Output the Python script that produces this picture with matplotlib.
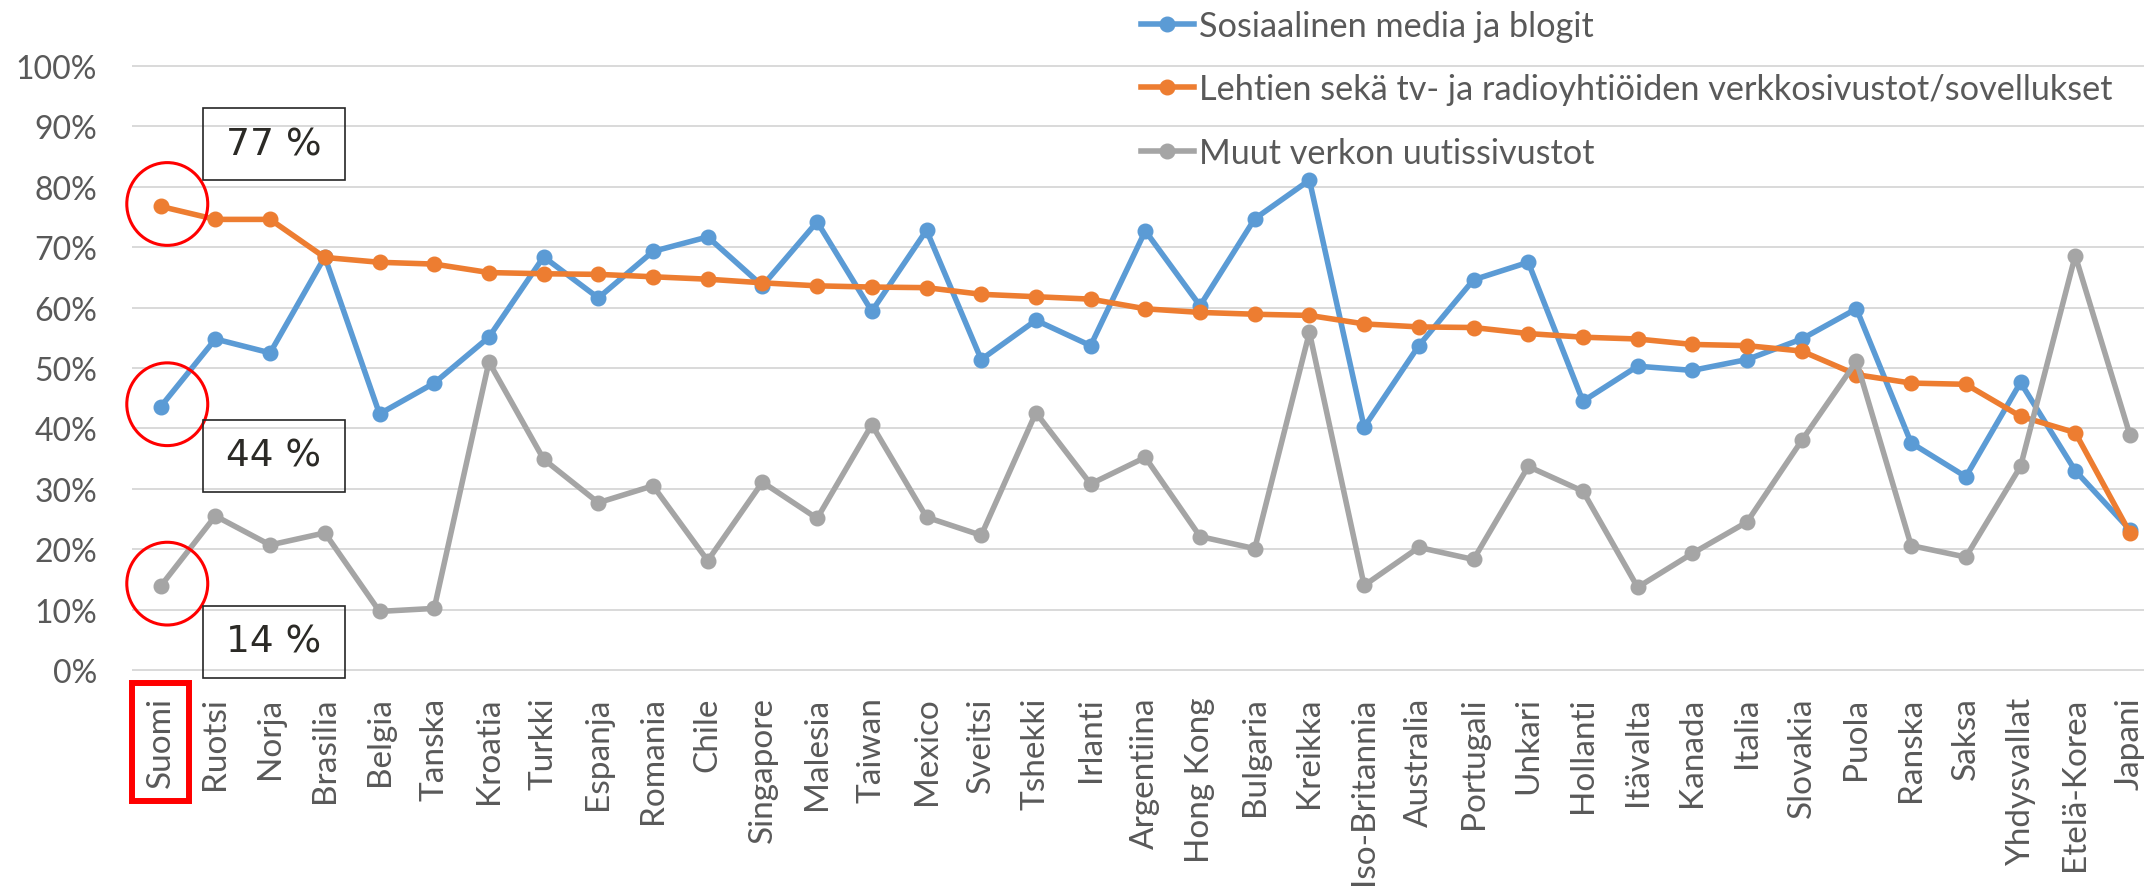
import matplotlib
matplotlib.use("Agg")
import matplotlib.pyplot as plt
from matplotlib.patches import Ellipse, Rectangle
from matplotlib.ticker import PercentFormatter
import numpy as np

countries = ["Suomi", "Ruotsi", "Norja", "Brasilia", "Belgia", "Tanska", "Kroatia",
             "Turkki", "Espanja", "Romania", "Chile", "Singapore", "Malesia", "Taiwan",
             "Mexico", "Sveitsi", "Tshekki", "Irlanti", "Argentiina", "Hong Kong",
             "Bulgaria", "Kreikka", "Iso-Britannia", "Australia", "Portugali", "Unkari",
             "Hollanti", "Itävalta", "Kanada", "Italia", "Slovakia", "Puola", "Ranska",
             "Saksa", "Yhdysvallat", "Etelä-Korea", "Japani"]

social_media = [0.436, 0.548, 0.525, 0.684, 0.424, 0.475, 0.551, 0.684, 0.616, 0.693,
                0.717, 0.636, 0.742, 0.594, 0.728, 0.514, 0.579, 0.537, 0.727, 0.603,
                0.747, 0.811, 0.402, 0.537, 0.646, 0.675, 0.445, 0.503, 0.496, 0.514,
                0.548, 0.598, 0.376, 0.320, 0.476, 0.330, 0.232]

news_sites = [0.7675, 0.746, 0.746, 0.683, 0.675, 0.672, 0.658, 0.656, 0.655, 0.651,
              0.647, 0.641, 0.636, 0.634, 0.633, 0.622, 0.618, 0.614, 0.598, 0.592,
              0.589, 0.587, 0.573, 0.568, 0.567, 0.557, 0.551, 0.548, 0.539, 0.537,
              0.528, 0.489, 0.475, 0.473, 0.420, 0.393, 0.227]

other_sites = [0.139, 0.255, 0.207, 0.227, 0.097, 0.102, 0.510, 0.349, 0.277, 0.305,
               0.181, 0.311, 0.251, 0.406, 0.253, 0.223, 0.426, 0.308, 0.352, 0.221,
               0.201, 0.559, 0.140, 0.203, 0.183, 0.337, 0.296, 0.137, 0.193, 0.245,
               0.380, 0.511, 0.206, 0.187, 0.337, 0.686, 0.389]

series_names = ["Sosiaalinen media ja blogit",
                "Lehtien sekä tv- ja radioyhtiöiden verkkosivustot/sovellukset",
                "Muut verkon uutissivustot"]
colors = ["#5B9BD5", "#ED7D31", "#A5A5A5"]
text_color = "#595959"

plt.rcParams["font.family"] = ["Lato", "DejaVu Sans"]

fig = plt.figure(figsize=(21.44, 8.87), dpi=100)
ax = fig.add_axes([0.0622, 0.2435, 0.944, 0.681])

x = np.arange(len(countries))
for vals, name, c in zip([social_media, news_sites, other_sites], series_names, colors):
    ax.plot(x, vals, color=c, lw=4, marker="o", ms=10.5, label=name,
            solid_joinstyle="round", zorder=3)

ax.set_xlim(-0.5, len(countries) - 0.5)
ax.set_ylim(0, 1)
ax.set_yticks(np.arange(0, 1.01, 0.1))
ax.yaxis.set_major_formatter(PercentFormatter(1.0, decimals=0))
ax.grid(axis="y", color="#D9D9D9", lw=1.4)
ax.set_axisbelow(True)
for gl in ax.get_ygridlines():
    gl.set_clip_on(False)
for s in ax.spines.values():
    s.set_visible(False)
ax.tick_params(axis="y", length=0, pad=26, labelsize=23, labelcolor=text_color)
ax.set_xticks(x)
ax.set_xticklabels(countries, rotation=90, fontsize=24, color=text_color)
ax.tick_params(axis="x", length=0, pad=19)

# red frame round the first country
first = ax.get_xticklabels()[0]
first.set_bbox(dict(boxstyle="square,pad=0.4", facecolor="none", edgecolor="#FF0000", linewidth=4.3))

ax.legend(loc="upper left", bbox_to_anchor=(0.532, 0.988), bbox_transform=fig.transFigure,
          frameon=False, fontsize=24.7, handlelength=1.55, handletextpad=0.15,
          labelspacing=0.92, borderaxespad=0, borderpad=0, labelcolor=text_color)

# circles and value boxes for Suomi
box_offsets = [-0.081, 0.103, -0.092]
for vals, off in zip([social_media, news_sites, other_sites], box_offsets):
    v = vals[0]
    ax.add_patch(Ellipse((0.12, v + 0.004), 1.48, 0.137, fill=False,
                         edgecolor="#FF0000", lw=2.2, clip_on=False, zorder=5))
    cy = v + off
    ax.add_patch(Rectangle((0.78, cy - 0.0595), 2.58, 0.119, fill=False,
                           edgecolor="#262626", lw=1.2, clip_on=False, zorder=5))
    ax.text(2.07, cy, f"{round(v * 100)} %", ha="center", va="center",
            fontsize=27, family="DejaVu Sans", color="#2B2A26", zorder=6)

fig.savefig("out.png", dpi=100)
